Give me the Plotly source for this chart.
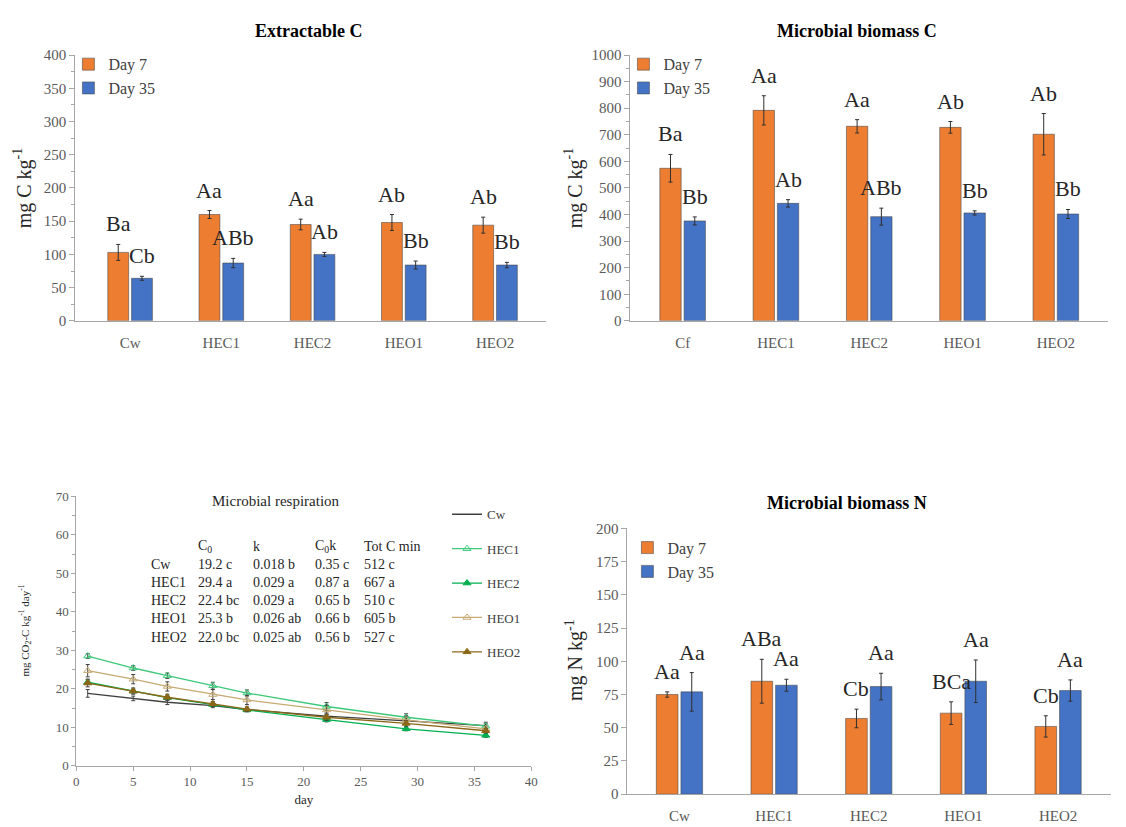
import plotly.graph_objects as go

W, H = 1126, 827


def fx(p):
    return p / W


def fy(p):
    return 1 - p / H


SERIF = "Liberation Serif, Times New Roman, DejaVu Serif, serif"
ORANGE = "#ED7D31"
BLUE = "#4472C4"
AXIS = "#a6a6a6"
TICKC = "#595959"

# ---------------- data ----------------
cats_ec = ["Cw", "HEC1", "HEC2", "HEO1", "HEO2"]
ec_day7 = [103, 160, 145, 148, 144]
ec_day7_err = [12, 6, 8, 12, 12]
ec_day35 = [64, 87, 100, 84, 84]
ec_day35_err = [3, 7, 3, 6, 4]
ec_day7_letters = ["Ba", "Aa", "Aa", "Ab", "Ab"]
ec_day35_letters = ["Cb", "ABb", "Ab", "Bb", "Bb"]

cats_mbc = ["Cf", "HEC1", "HEC2", "HEO1", "HEO2"]
mbc_day7 = [574, 792, 732, 728, 702]
mbc_day7_err = [52, 55, 25, 22, 78]
mbc_day35 = [376, 442, 392, 406, 402]
mbc_day35_err = [15, 14, 32, 8, 17]
mbc_day7_letters = ["Ba", "Aa", "Aa", "Ab", "Ab"]
mbc_day35_letters = ["Bb", "Ab", "ABb", "Bb", "Bb"]

cats_mbn = ["Cw", "HEC1", "HEC2", "HEO1", "HEO2"]
mbn_day7 = [75, 85, 57, 61, 51]
mbn_day7_err = [2, 16.5, 7, 8.5, 8]
mbn_day35 = [77, 82, 81, 85, 78]
mbn_day35_err = [14.5, 4.5, 10, 16, 8]
mbn_day7_letters = ["Aa", "ABa", "Cb", "BCa", "Cb"]
mbn_day35_letters = ["Aa", "Aa", "Aa", "Aa", "Aa"]

days = [1, 5, 8, 12, 15, 22, 29, 36]
resp_names = ["Cw", "HEC1", "HEC2", "HEO1", "HEO2"]
resp_cw = [18.8, 17.5, 16.5, 15.6, 14.6, 12.9, 11.7, 10.4]
resp_hec1 = [28.5, 25.4, 23.4, 20.8, 18.9, 15.4, 12.6, 10.3]
resp_hec2 = [21.7, 19.4, 17.7, 15.9, 14.5, 12.0, 9.6, 7.9]
resp_heo1 = [24.7, 22.5, 20.6, 18.5, 17.1, 14.5, 11.9, 9.6]
resp_heo2 = [21.5, 19.4, 17.8, 16.1, 14.7, 12.6, 11.0, 9.1]
resp_cw_err = [1.0, 0.6, 0.6, 0.5, 0.5, 0.8, 0.8, 0.9]
resp_hec1_err = [0.6, 0.6, 0.7, 0.9, 0.8, 1.0, 0.9, 0.6]
resp_hec2_err = [0.6, 0.5, 0.5, 0.5, 0.5, 0.6, 0.5, 0.5]
resp_heo1_err = [1.6, 1.2, 1.2, 1.3, 1.2, 1.2, 1.0, 0.7]
resp_heo2_err = [1.0, 0.8, 0.8, 0.6, 0.6, 0.8, 0.7, 0.6]

table_header = ["C<sub>0</sub>", "k", "C<sub>0</sub>k", "Tot C min"]
table_c0 = ["19.2 c", "29.4 a", "22.4 bc", "25.3 b", "22.0 bc"]
table_k = ["0.018 b", "0.029 a", "0.029 a", "0.026 ab", "0.025 ab"]
table_c0k = ["0.35 c", "0.87 a", "0.65 b", "0.66 b", "0.56 b"]
table_totc = ["512 c", "667 a", "510 c", "605 b", "527 c"]

# ---------------- figure ----------------
fig = go.Figure()
annotations = []

bar_panels = [
    ("x", "y", "legend", cats_ec, ec_day7, ec_day7_err, ec_day35, ec_day35_err,
     ec_day7_letters, ec_day35_letters),
    ("x2", "y2", "legend2", cats_mbc, mbc_day7, mbc_day7_err, mbc_day35, mbc_day35_err,
     mbc_day7_letters, mbc_day35_letters),
    ("x4", "y4", "legend3", cats_mbn, mbn_day7, mbn_day7_err, mbn_day35, mbn_day35_err,
     mbn_day7_letters, mbn_day35_letters),
]

BARGAP = 0.48
half = (1 - BARGAP) / 4
letter_font = dict(family=SERIF, size=22, color="#262626")

for xa, ya, lg, cats, d7, e7, d35, e35, l7, l35 in bar_panels:
    xs = list(range(len(cats)))
    for name, vals, errs, col in [("Day 7", d7, e7, ORANGE), ("Day 35", d35, e35, BLUE)]:
        fig.add_trace(go.Bar(
            x=xs, y=vals, name=name, xaxis=xa, yaxis=ya, legend=lg,
            marker=dict(color=col, line=dict(color="rgba(70,70,70,0.55)", width=1)),
            error_y=dict(type="data", array=errs, color="#303030", thickness=1, width=2),
        ))
    for i in range(len(cats)):
        annotations.append(dict(x=i - half, y=d7[i] + e7[i], xref=xa, yref=ya,
                                text=l7[i], showarrow=False, yanchor="bottom", yshift=6,
                                font=letter_font))
        annotations.append(dict(x=i + half, y=d35[i] + e35[i], xref=xa, yref=ya,
                                text=l35[i], showarrow=False, yanchor="bottom", yshift=6,
                                font=letter_font))

# respiration lines
resp_series = [
    ("Cw", resp_cw, resp_cw_err, "#404040", None),
    ("HEC1", resp_hec1, resp_hec1_err, "#3cc97a", "triangle-up-open"),
    ("HEC2", resp_hec2, resp_hec2_err, "#00b050", "triangle-up"),
    ("HEO1", resp_heo1, resp_heo1_err, "#c6aa72", "triangle-up-open"),
    ("HEO2", resp_heo2, resp_heo2_err, "#8a6818", "triangle-up"),
]
for name, vals, errs, col, sym in resp_series:
    mode = "lines" if sym is None else "lines+markers"
    fig.add_trace(go.Scatter(
        x=days, y=vals, name=name, mode=mode, xaxis="x3", yaxis="y3", legend="legend4",
        legendgroup=name,
        line=dict(color=col, width=1.3),
        marker=dict(symbol=sym or "circle", size=7, color=col, line=dict(color=col, width=1)),
        error_y=dict(type="data", array=errs, color="#404040", thickness=1, width=2),
    ))

# table inside respiration panel
col_x = [147, 195, 250, 313, 362]
row_y = [549, 567, 586, 604, 623, 642]
tfont = dict(family=SERIF, size=14, color="#262626")
for j, h in enumerate(table_header):
    annotations.append(dict(x=fx(col_x[j + 1]), y=fy(row_y[0]), xref="paper", yref="paper",
                            text=h, showarrow=False, xanchor="left", yanchor="middle", font=tfont))
for i, nm in enumerate(resp_names):
    cells = [nm, table_c0[i], table_k[i], table_c0k[i], table_totc[i]]
    for j, c in enumerate(cells):
        annotations.append(dict(x=fx(col_x[j]), y=fy(row_y[i + 1]), xref="paper", yref="paper",
                                text=c, showarrow=False, xanchor="left", yanchor="middle",
                                font=tfont))

# titles
title_font = dict(family=SERIF, size=18, color="#000000")
for txt, px, py in [("<b>Extractable C</b>", 308, 23), ("<b>Microbial biomass C</b>", 862, 23),
                    ("<b>Microbial biomass N</b>", 852, 505)]:
    annotations.append(dict(x=fx(px), y=fy(py), xref="paper", yref="paper", text=txt,
                            showarrow=False, xanchor="center", yanchor="middle", font=title_font))
annotations.append(dict(x=fx(275), y=fy(503), xref="paper", yref="paper",
                        text="Microbial respiration", showarrow=False, xanchor="center",
                        yanchor="middle", font=dict(family=SERIF, size=15, color="#262626")))

# y-axis titles
ytfont = dict(family=SERIF, size=20, color="#262626")
for txt, px, py in [("mg C kg<sup>-1</sup>", 20, 183), ("mg C kg<sup>-1</sup>", 576, 183),
                    ("mg N kg<sup>-1</sup>", 576, 665)]:
    annotations.append(dict(x=fx(px), y=fy(py), xref="paper", yref="paper", text=txt,
                            textangle=-90, showarrow=False, xanchor="center", yanchor="middle",
                            font=ytfont))
annotations.append(dict(x=fx(22), y=fy(635), xref="paper", yref="paper",
                        text="mg CO<sub>2</sub>-C kg<sup>-1</sup> day<sup>-1</sup>",
                        textangle=-90, showarrow=False, xanchor="center", yanchor="middle",
                        font=dict(family=SERIF, size=11, color="#262626")))

tickfont = dict(family=SERIF, size=15, color=TICKC)


def cat_xaxis(domain_px, rng, cats):
    return dict(domain=[fx(domain_px[0]), fx(domain_px[1])], range=rng,
                tickmode="array", tickvals=list(range(len(cats))), ticktext=cats,
                showline=True, linecolor=AXIS, linewidth=1, ticks="", showgrid=False,
                zeroline=False, tickfont=tickfont, ticklabelstandoff=8, fixedrange=True)


def val_yaxis(domain_px, rng, dtick, minor, anchor):
    d = dict(domain=[fy(domain_px[1]), fy(domain_px[0])], range=rng, dtick=dtick, tick0=0,
             showline=True, linecolor=AXIS, linewidth=1, ticks="outside", ticklen=5,
             tickcolor=AXIS, showgrid=False, zeroline=False, tickfont=tickfont, anchor=anchor)
    if minor:
        d["minor"] = dict(dtick=minor, ticks="outside", ticklen=3, tickcolor=AXIS)
    return d


legfont = dict(family=SERIF, size=16, color="#404040")

fig.update_layout(
    width=W, height=H, margin=dict(l=0, r=0, t=0, b=0),
    paper_bgcolor="white", plot_bgcolor="white",
    font=dict(family=SERIF),
    barmode="group", bargap=BARGAP, bargroupgap=0.12,
    xaxis=dict(cat_xaxis((73, 548), [-0.6, 4.56], cats_ec), anchor="y"),
    yaxis=val_yaxis((48, 319), [0, 400], 50, 25, "x"),
    xaxis2=dict(cat_xaxis((633, 1115), [-0.56, 4.56], cats_mbc), anchor="y2"),
    yaxis2=val_yaxis((48, 319), [0, 1000], 100, 50, "x2"),
    xaxis4=dict(cat_xaxis((630, 1118), [-0.55, 4.56], cats_mbn), anchor="y4"),
    yaxis4=val_yaxis((530.7, 801.7), [0, 200], 25, None, "x4"),
    xaxis3=dict(domain=[fx(74), fx(533)], range=[0, 40], dtick=5, anchor="y3",
                showline=True, linecolor=AXIS, ticks="outside", ticklen=4, tickcolor=AXIS,
                showgrid=False, zeroline=False,
                tickfont=dict(family=SERIF, size=13, color=TICKC),
                title=dict(text="day", font=dict(family=SERIF, size=13, color="#262626"),
                           standoff=6)),
    yaxis3=dict(domain=[fy(772.7), fy(498)], range=[0, 70], dtick=10, anchor="x3",
                showline=True, linecolor=AXIS, ticks="outside", ticklen=4, tickcolor=AXIS,
                minor=dict(dtick=5, ticks="outside", ticklen=3, tickcolor=AXIS),
                showgrid=False, zeroline=False,
                tickfont=dict(family=SERIF, size=13, color=TICKC)),
    legend=dict(x=fx(66), y=fy(40), xanchor="left", yanchor="top", bgcolor="rgba(0,0,0,0)",
                font=legfont, itemwidth=30, tracegroupgap=0),
    legend2=dict(x=fx(626), y=fy(40), xanchor="left", yanchor="top", bgcolor="rgba(0,0,0,0)",
                 font=legfont, itemwidth=30, tracegroupgap=0),
    legend3=dict(x=fx(630), y=fy(533), xanchor="left", yanchor="top", bgcolor="rgba(0,0,0,0)",
                 font=legfont, itemwidth=30, tracegroupgap=0),
    legend4=dict(x=fx(448), y=fy(501), xanchor="left", yanchor="top", bgcolor="rgba(0,0,0,0)",
                 font=dict(family=SERIF, size=13, color="#404040"), itemwidth=30,
                 tracegroupgap=14.5, traceorder="grouped"),
    annotations=annotations,
)

fig.write_html("out.html")
